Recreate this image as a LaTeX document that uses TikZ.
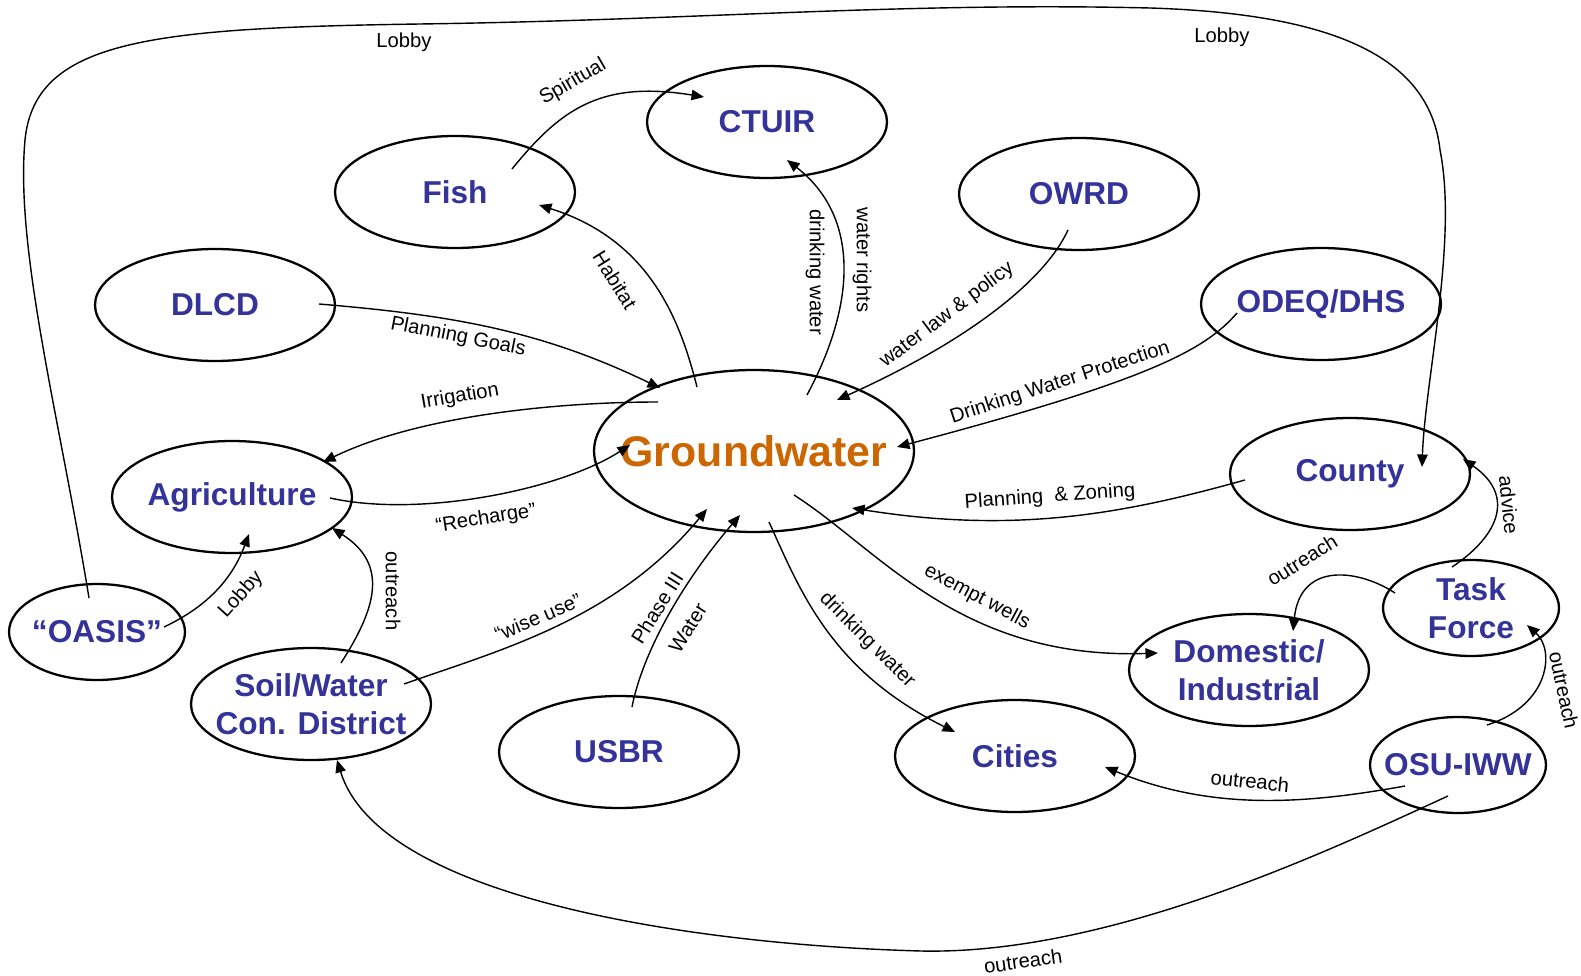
\documentclass[tikz,border=0pt]{standalone}
\usepackage{fontspec}
\setmainfont{Liberation Sans}
\usetikzlibrary{arrows.meta,calc,shapes.geometric}
\definecolor{actor}{HTML}{333399}
\definecolor{water}{HTML}{CC6600}
\tikzset{lbl/.style={draw=none, fill=none, shape=rectangle, minimum size=0pt,
  inner sep=1pt, text=black, font=\fontsize{11.5}{13}\selectfont}}
\tikzset{small/.style={minimum width=3.52cm, minimum height=1.92cm},
  hub/.style={minimum width=6.4cm, minimum height=3.24cm, text=water,
  font=\fontsize{24.4}{28}\selectfont\bfseries}}

\begin{document}
\begin{tikzpicture}[x=0.02cm, y=-0.02cm, line width=0.8pt,
  >={Triangle[length=0.25cm, width=0.21cm]},
  every node/.style={ellipse, draw, line width=1.3pt, minimum width=4.8cm,
  minimum height=2.24cm, inner sep=-40pt, align=center, text=actor,
  font=\fontsize{18}{21.5}\selectfont\bfseries}]
  \useasboundingbox (0,0) rectangle (1581,976);
  \node (ctuir)  at (767,122)  {CTUIR};
  \node (fish)   at (455,192)  {Fish};
  \node (owrd)   at (1079,194) {OWRD};
  \node (dlcd)   at (215,305)  {DLCD};
  \node (odeq)   at (1321,304) {ODEQ/DHS};
  \node[hub] (gw) at (754,451) {Groundwater};
  \node (agri)   at (232,497)  {Agriculture};
  \node (county) at (1350,474) {County};
  \node[small] (oasis) at (97,632) {“OASIS”};
  \node[small] (task)  at (1471,608) {Task\\Force};
  \node (soil)   at (311,704)  {Soil/Water\\Con. District};
  \node (dom)    at (1249,670) {Domestic/\\Industrial};
  \node (usbr)   at (619,752)  {USBR};
  \node (cities) at (1015,756) {Cities};
  \node[small] (osu) at (1458,765) {OSU-IWW};
  % links around the groundwater
  \draw[->] ($(fish)+(57,-23)$) .. controls (560,110) and (600,80) .. ($(ctuir)+(-63,-25)$)
    node[lbl, rotate=30] at (573,82) {Spiritual};
  \draw[->] ($(gw)+(-57,-64)$) .. controls (680,320) and (650,240) .. ($(fish)+(84,13)$)
    node[lbl, rotate=-58] at (615,280) {Habitat};
  \draw[->] ($(dlcd)+(104,-1)$) .. controls (450,315) and (540,330) .. ($(gw)+(-94,-63)$)
    node[lbl, rotate=-11] at (458,337) {Planning Goals};
  \draw[->] ($(gw)+(-96,-49)$) .. controls (560,402) and (420,415) .. ($(agri)+(91,-35)$)
    node[lbl, rotate=10] at (460,397) {Irrigation};
  \draw[->] ($(agri)+(98,1)$) .. controls (420,518) and (560,490) .. ($(gw)+(-124,-6)$)
    node[lbl, rotate=9] at (486,519) {“Recharge”};
  \draw[->] ($(gw)+(53,-56)$) .. controls (858,300) and (858,215) .. ($(ctuir)+(20,38)$)
    node[lbl, rotate=-90] at (815,272) {drinking water}
    node[lbl, rotate=-90] at (862,260) {water rights};
  \draw[->] ($(owrd)+(-11,36)$) .. controls (1045,280) and (970,340) .. ($(gw)+(83,-51)$)
    node[lbl, rotate=37] at (947,315) {water law \& policy};
  \draw[->] ($(odeq)+(-84,9)$) .. controls (1205,350) and (1150,380) .. ($(gw)+(143,-4)$)
    node[lbl, rotate=18] at (1060,383) {Drinking Water Protection};
  \draw[->] ($(county)+(-105,6)$) .. controls (1130,512) and (1020,535) .. ($(gw)+(98,57)$)
    node[lbl, rotate=4] at (1050,497) {Planning\ \ \& Zoning};
  \draw[->] ($(soil)+(93,-20)$) .. controls (500,650) and (615,620) .. ($(gw)+(-47,58)$)
    node[lbl, rotate=23] at (538,617) {“wise use”};
  \draw[->] ($(usbr)+(13,-45)$) .. controls (642,655) and (680,585) .. ($(gw)+(-14,64)$)
    node[lbl, rotate=58] at (657,608) {Phase III}
    node[lbl, rotate=58] at (688,628) {Water};
  \draw[->] ($(gw)+(15,71)$) .. controls (800,590) and (830,670) .. ($(cities)+(-60,-24)$)
    node[lbl, rotate=-45] at (867,640) {drinking water};
  \draw[->] ($(gw)+(40,44)$) .. controls (880,550) and (960,660) .. ($(dom)+(-91,-17)$)
    node[lbl, rotate=-28] at (977,597) {exempt wells};
  % lobby and outreach
  \draw[->] ($(oasis)+(67,-5)$) .. controls (200,610) and (230,585) .. ($(agri)+(17,37)$)
    node[lbl, rotate=48] at (241,595) {Lobby};
  \draw[->] ($(soil)+(30,-41)$) .. controls (375,610) and (390,565) .. ($(agri)+(100,31)$)
    node[lbl, rotate=-90] at (393,591) {outreach};
  \draw[->] ($(oasis)+(-8,-34)$) .. controls (60,420) and (15,250) .. (25,140)
    .. controls (35,40) and (150,28) .. (420,24)
    .. controls (700,20) and (900,2) .. (1150,8)
    .. controls (1340,14) and (1430,60) .. (1440,150)
    .. controls (1458,240) and (1425,380) .. ($(county)+(72,-7)$)
    node[lbl] at (404,42) {Lobby}
    node[lbl] at (1222,37) {Lobby};
  \draw[->] ($(task)+(-19,-41)$) .. controls (1500,535) and (1515,495) .. ($(county)+(113,-15)$)
    node[lbl, rotate=-84] at (1509,505) {advice};
  \draw[->] ($(task)+(-76,-15)$) .. controls (1360,570) and (1300,560) .. ($(dom)+(44,-39)$)
    node[lbl, rotate=32] at (1302,560) {outreach};
  \draw[->] ($(osu)+(29,-40)$) .. controls (1550,705) and (1555,650) .. ($(task)+(56,17)$)
    node[lbl, rotate=-78] at (1564,690) {outreach};
  \draw[->] ($(osu)+(-53,21)$) .. controls (1300,805) and (1210,810) .. ($(cities)+(90,11)$)
    node[lbl, rotate=-6] at (1250,781) {outreach};
  \draw[->] ($(osu)+(-10,31)$) .. controls (1330,850) and (1110,955) .. (921,951)
    .. controls (700,945) and (380,900) .. ($(soil)+(26,56)$)
    node[lbl, rotate=8] at (1023,961) {outreach};
\end{tikzpicture}
\end{document}
